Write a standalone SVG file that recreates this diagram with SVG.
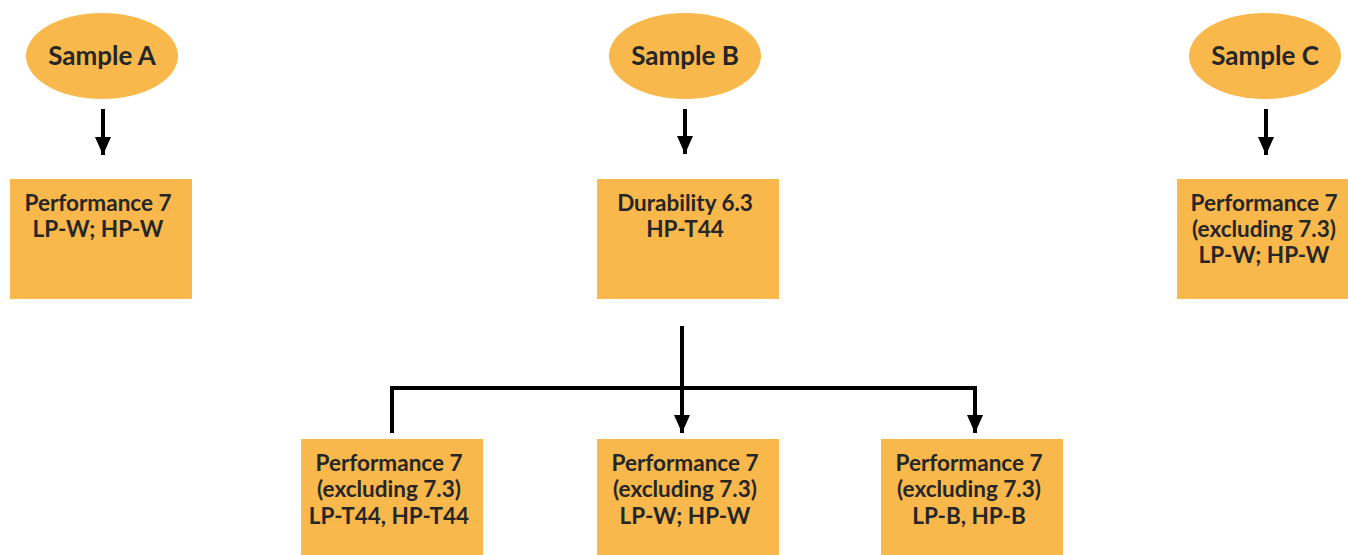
<svg xmlns="http://www.w3.org/2000/svg" width="1348" height="555" viewBox="0 0 1348 555">
<style>
.n{fill:#F9B84B}
.t{font-family:Lato,"Open Sans",sans-serif;font-weight:bold;fill:#262626;text-anchor:middle}
.b{font-size:22.5px}
.e{font-size:26px}
.c{stroke:#000;stroke-width:4;fill:none}
</style>
<defs>
<marker id="ah" markerUnits="userSpaceOnUse" markerWidth="16" markerHeight="20" refX="18" refY="8" orient="auto">
<path d="M0,0 L18,8 L0,16 Z" fill="#000"/>
</marker>
</defs>
<rect width="1348" height="555" fill="#fff"/>
<g id="sampleA"><ellipse class="n" cx="102" cy="56" rx="76" ry="43"/><text class="t e" x="102" y="65">Sample A</text></g>
<g id="sampleB"><ellipse class="n" cx="685" cy="56" rx="76" ry="43"/><text class="t e" x="685" y="65">Sample B</text></g>
<g id="sampleC"><ellipse class="n" cx="1265" cy="56" rx="76" ry="43"/><text class="t e" x="1265" y="65">Sample C</text></g>
<g id="boxA"><rect class="n" x="10" y="179" width="182" height="120"/><text class="t b" x="98" y="211">Performance 7<tspan x="98" y="237">LP-W; HP-W</tspan></text></g>
<g id="boxB"><rect class="n" x="597" y="179" width="182" height="120"/><text class="t b" x="685" y="211">Durability 6.3<tspan x="685" y="237">HP-T44</tspan></text></g>
<g id="boxC"><rect class="n" x="1177" y="179" width="171" height="120"/><text class="t b" x="1264" y="211">Performance 7<tspan x="1264" y="237">(excluding 7.3)</tspan><tspan x="1264" y="263">LP-W; HP-W</tspan></text></g>
<g id="boxD"><rect class="n" x="301" y="439" width="182" height="116"/><text class="t b" x="389" y="471">Performance 7<tspan x="389" y="497">(excluding 7.3)</tspan><tspan x="389" y="524">LP-T44, HP-T44</tspan></text></g>
<g id="boxE"><rect class="n" x="597" y="439" width="182" height="116"/><text class="t b" x="685" y="471">Performance 7<tspan x="685" y="497">(excluding 7.3)</tspan><tspan x="685" y="524">LP-W; HP-W</tspan></text></g>
<g id="boxF"><rect class="n" x="881" y="439" width="182" height="116"/><text class="t b" x="969" y="471">Performance 7<tspan x="969" y="497">(excluding 7.3)</tspan><tspan x="969" y="524">LP-B, HP-B</tspan></text></g>
<g id="connectors">
<line class="c" x1="103" y1="109" x2="103" y2="155" marker-end="url(#ah)"/>
<line class="c" x1="685" y1="109" x2="685" y2="154" marker-end="url(#ah)"/>
<line class="c" x1="1266" y1="109" x2="1266" y2="155" marker-end="url(#ah)"/>
<line class="c" x1="682" y1="326" x2="682" y2="433" marker-end="url(#ah)"/>
<polyline class="c" points="392,433 392,388 975,388 975,433" marker-end="url(#ah)"/>
</g>
</svg>
